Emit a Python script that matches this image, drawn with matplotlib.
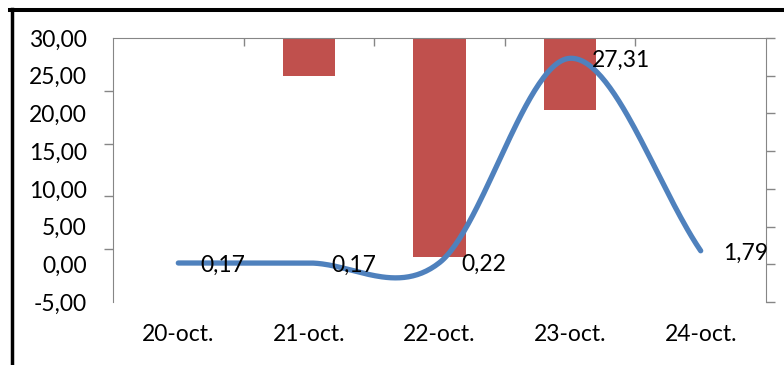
import numpy as np
import matplotlib
matplotlib.use("Agg")
from matplotlib import pyplot as plt
from matplotlib.lines import Line2D

plt.rcParams["font.family"] = ["Lato", "DejaVu Sans"]
plt.rcParams["font.size"] = 16.5

# data
dates = ["20-oct.", "21-oct.", "22-oct.", "23-oct.", "24-oct."]
line_vals = [0.17, 0.17, 0.22, 27.31, 1.79]
line_labels = ["0,17", "0,17", "0,22", "27,31", "1,79"]
bar_vals = [0.0, 5.0, 29.0, 9.6, 0.0]   # hanging bars, read on the right (hidden) axis
left_ticks = [-5, 0, 5, 10, 15, 20, 25, 30]
left_ticklabels = ["-5,00", "0,00", "5,00", "10,00", "15,00", "20,00", "25,00", "30,00"]

grey = "#868686"
blue = "#4F81BD"
red = "#C0504D"


def smooth(y, n=60):
    # cubic hermite through the points (like excel's smoothed line)
    y = np.asarray(y, dtype=float)
    m = np.zeros_like(y)
    m[1:-1] = (y[2:] - y[:-2]) / 2
    m[0] = y[1] - y[0]
    m[-1] = y[-1] - y[-2]
    xs, ys = [], []
    for i in range(len(y) - 1):
        t = np.linspace(0, 1, n)
        h00 = 2*t**3 - 3*t**2 + 1
        h10 = t**3 - 2*t**2 + t
        h01 = -2*t**3 + 3*t**2
        h11 = t**3 - t**2
        xs.append(i + t)
        ys.append(h00*y[i] + h10*m[i] + h01*y[i+1] + h11*m[i+1])
    return np.concatenate(xs), np.concatenate(ys)


fig = plt.figure(figsize=(7.84, 3.65), dpi=100)
ax = fig.add_axes([113/784, 1-302/365, (766-113)/784, (302-38)/365])
ax2 = ax.twinx()
x = np.arange(len(dates))

# bars on the secondary axis, hanging from the top
ax2.bar(x, bar_vals, width=0.4, color=red, zorder=1)
ax2.set_ylim(35, 0)
ax2.set_yticks(np.arange(0, 36, 5))
ax2.tick_params(axis="y", right=True, labelright=False, direction="out", length=6.5, color=grey, width=1)
for s in ["left", "top", "bottom"]:
    ax2.spines[s].set_visible(False)
ax2.spines["right"].set_color(grey)

# line on primary axis, drawn on top
ax.set_zorder(ax2.get_zorder() + 1)
ax.patch.set_visible(False)
sx, sy = smooth(line_vals)
ax.plot(sx, sy, color=blue, lw=3.8, solid_capstyle="round")
for xi, yi, lab in zip(x, line_vals, line_labels):
    ax.annotate(lab, (xi, yi), xytext=(16, -1.5), textcoords="offset points",
                ha="left", va="center")

ax.set_xlim(-0.5, len(dates) - 0.5)
ax.set_ylim(-5, 30)
ax.set_yticks(left_ticks)
ax.set_yticklabels(left_ticklabels)
ax.set_yticks(np.linspace(-5, 30, 6), minor=True)
ax.tick_params(axis="y", which="major", length=0, pad=19)
ax.tick_params(axis="y", which="minor", length=6.5, direction="out", color=grey, width=1)

ax.set_xticks(x)
ax.set_xticklabels(dates)
ax.set_xticks(np.arange(0.5, len(dates) - 1, 1), minor=True)
ax.tick_params(axis="x", which="major", length=0, pad=16)
ax.tick_params(axis="x", which="minor", bottom=False, top=True, direction="in", length=6, color=grey, width=1)

ax.spines["bottom"].set_visible(False)
ax.spines["right"].set_visible(False)
ax.spines["left"].set_color(grey)
ax.spines["top"].set_color(grey)

# black frame pieces visible at the edges
fig.add_artist(Line2D([11.7/784, 11.7/784], [0, 1-8.5/365], transform=fig.transFigure, color="black", lw=2.5))
fig.add_artist(Line2D([10/784, 1], [1-10.3/365, 1-10.3/365], transform=fig.transFigure, color="black", lw=2.9))

fig.savefig("out.png", dpi=100)
